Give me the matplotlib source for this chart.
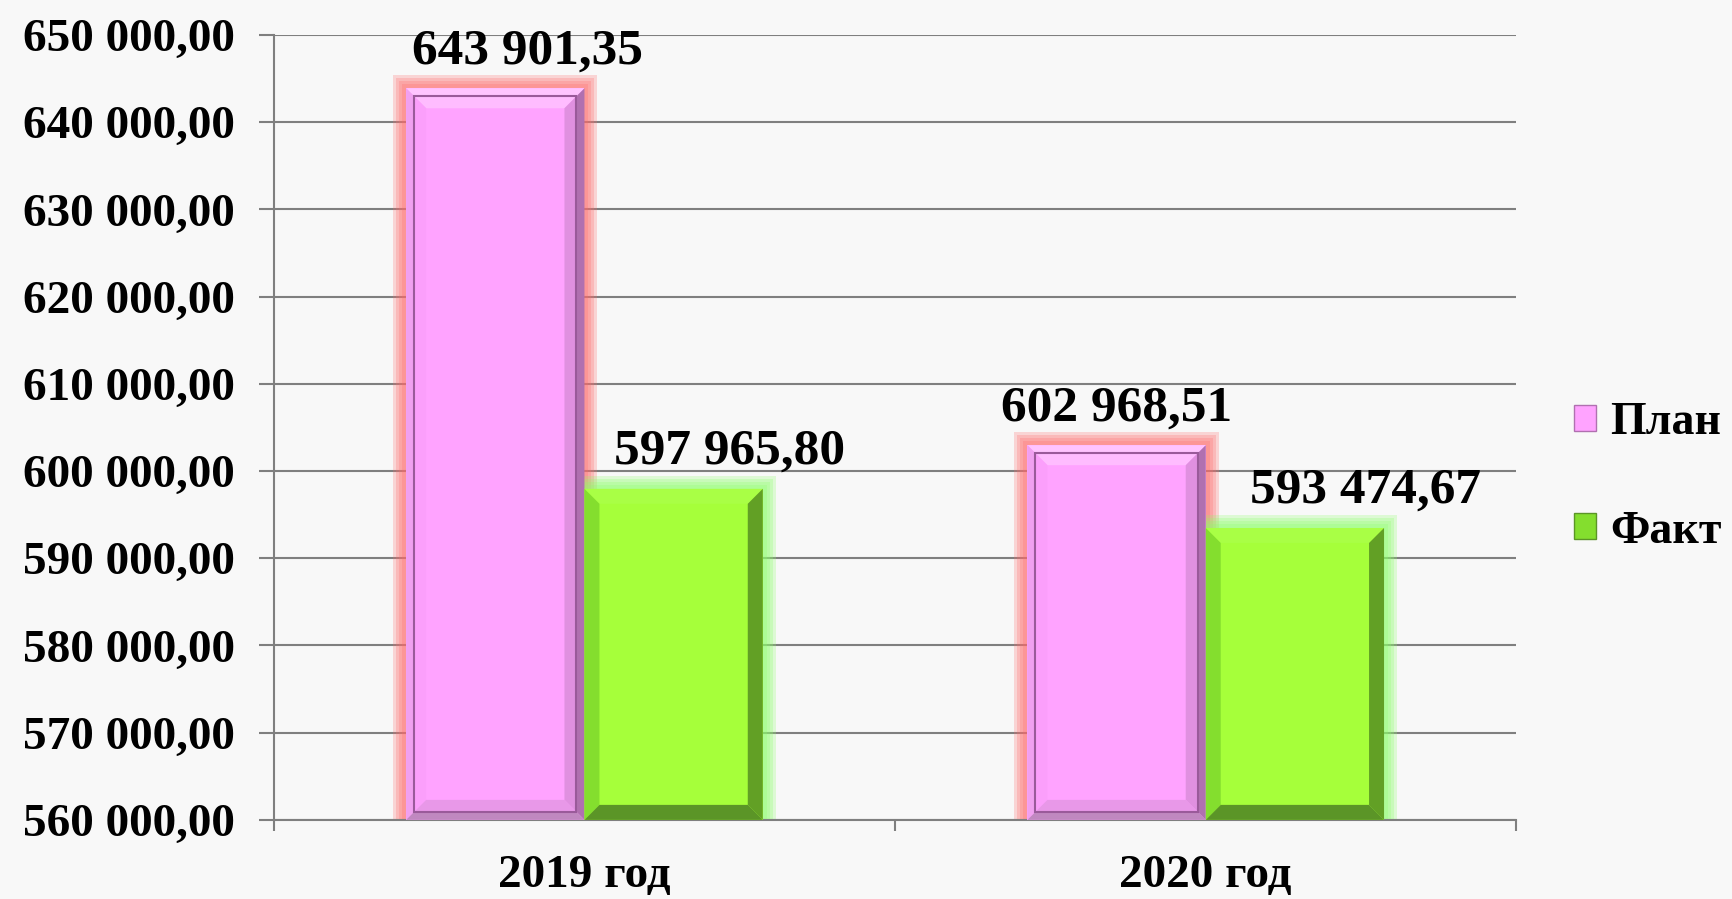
import numpy as np
import matplotlib
matplotlib.use("Agg")
import matplotlib.pyplot as plt
from matplotlib.patches import Polygon, Rectangle
from matplotlib.ticker import FuncFormatter, MultipleLocator, FixedLocator

years = ["2019 год", "2020 год"]
plan = [643901.35, 602968.51]
fact = [597965.80, 593474.67]
series_names = ["План", "Факт"]

y_min, y_max, y_step = 560000, 650000, 10000

# label shifts in points (labels sit a bit right of the bars in the original)
label_dx = [[23, 0], [40, 51]]

plt.rcParams['font.family'] = ['Liberation Serif', 'DejaVu Serif']
plt.rcParams['font.weight'] = 'bold'

fig = plt.figure(figsize=(17.33, 8.99), dpi=100)
fig.patch.set_facecolor('#f8f8f8')
ax = fig.add_axes([0.158, 0.088, 0.717, 0.873])
ax.set_facecolor('none')

x = np.arange(len(years))
w = 0.287
ymin_arr = np.full(len(years), y_min)
bars_plan = ax.bar(x - w / 2, np.array(plan) - y_min, w, bottom=ymin_arr,
                   color='#ffa3ff', zorder=3, label=series_names[0])
bars_fact = ax.bar(x + w / 2, np.array(fact) - y_min, w, bottom=ymin_arr,
                   color='#a6ff3a', zorder=3, label=series_names[1])

ax.set_xlim(-0.5, len(years) - 0.5)
ax.set_ylim(y_min, y_max)

# pixel -> data sizes
ax_px = ax.get_window_extent()
px_x = (len(years)) / ax_px.width
px_y = (y_max - y_min) / ax_px.height


def glow(bar, color):
    x0, y0 = bar.get_x(), bar.get_y()
    bw, bh = bar.get_width(), bar.get_height()
    for pad in [13, 10, 7, 4]:
        ax.add_patch(Rectangle((x0 - pad * px_x, y0), bw + 2 * pad * px_x,
                               bh + pad * px_y, facecolor=color, alpha=0.25,
                               edgecolor='none', zorder=2))


def bevel(bar, b, top, left, right, bottom, zo=4):
    x0, y0 = bar.get_x(), bar.get_y()
    x1, y1 = x0 + bar.get_width(), y0 + bar.get_height()
    bx, by = b * px_x, b * px_y
    xi0, xi1, yi0, yi1 = x0 + bx, x1 - bx, y0 + by, y1 - by
    ax.add_patch(Polygon([(x0, y1), (x1, y1), (xi1, yi1), (xi0, yi1)], color=top, zorder=zo, lw=0))
    ax.add_patch(Polygon([(x0, y0), (x0, y1), (xi0, yi1), (xi0, yi0)], color=left, zorder=zo, lw=0))
    ax.add_patch(Polygon([(x1, y0), (x1, y1), (xi1, yi1), (xi1, yi0)], color=right, zorder=zo, lw=0))
    ax.add_patch(Polygon([(x0, y0), (x1, y0), (xi1, yi0), (xi0, yi0)], color=bottom, zorder=zo, lw=0))
    return xi0, yi0, xi1, yi1


for bar in bars_plan:
    glow(bar, '#ff6b6b')
    xi0, yi0, xi1, yi1 = bevel(bar, 8, '#ffc4ff', '#f0a0f0', '#b070b0', '#c088c0')
    ax.add_patch(Rectangle((xi0, yi0), xi1 - xi0, yi1 - yi0, facecolor='none',
                           edgecolor='#9a5a9a', lw=1.5, zorder=5))
    bevel(Rectangle((xi0, yi0), xi1 - xi0, yi1 - yi0), 12, '#ffbcff', '#fb9ffb', '#e090e0', '#e898e8', zo=4.5)

for bar in bars_fact:
    glow(bar, '#8dff6a')
    bevel(bar, 15, '#a9ff45', '#84de2e', '#62a025', '#5b9527')

# data labels
for i, val in enumerate(plan):
    b = bars_plan[i]
    ax.annotate(f"{val:,.2f}".replace(",", " ").replace(".", ","),
                (b.get_x() + b.get_width() / 2, val), xytext=(label_dx[0][i], 10),
                textcoords='offset points', ha='center', va='bottom',
                fontsize=37, fontweight='bold', zorder=6)
for i, val in enumerate(fact):
    b = bars_fact[i]
    ax.annotate(f"{val:,.2f}".replace(",", " ").replace(".", ","),
                (b.get_x() + b.get_width() / 2, val), xytext=(label_dx[1][i], 10),
                textcoords='offset points', ha='center', va='bottom',
                fontsize=37, fontweight='bold', zorder=6)

# axes styling
ax.yaxis.set_major_locator(MultipleLocator(y_step))
ax.yaxis.set_major_formatter(FuncFormatter(
    lambda v, p: f"{v:,.2f}".replace(",", " ").replace(".", ",")))
ax.grid(axis='y', color='#7f7f7f', lw=1.5, zorder=1)
ax.set_axisbelow(True)
for s in ['top', 'right']:
    ax.spines[s].set_visible(False)
for s in ['left', 'bottom']:
    ax.spines[s].set_color('#7f7f7f')
    ax.spines[s].set_linewidth(1.5)
ax.tick_params(axis='y', length=11, width=1.5, color='#7f7f7f', pad=17, labelsize=34)

ax.xaxis.set_major_locator(FixedLocator(np.arange(-0.5, len(years), 1.0)))
ax.xaxis.set_minor_locator(FixedLocator(x))
ax.xaxis.set_major_formatter(FuncFormatter(lambda v, p: ""))
ax.set_xticks(x, years, minor=True)
ax.tick_params(axis='x', which='major', length=8, width=1.5, color='#7f7f7f')
ax.tick_params(axis='x', which='minor', length=0, pad=25, labelsize=34)
for t in ax.get_yticklabels() + ax.get_xticklabels(minor=True):
    t.set_fontweight('bold')

handles = [Rectangle((0, 0), 1, 1, facecolor='#ffa3ff', edgecolor='#b070b0'),
           Rectangle((0, 0), 1, 1, facecolor='#84de2e', edgecolor='#5b9527')]
leg = fig.legend(handles, series_names, loc='center left',
                 bbox_to_anchor=(0.908, 0.469), frameon=False, borderpad=0,
                 borderaxespad=0, prop={'size': 33, 'weight': 'bold'},
                 handlelength=0.5, handleheight=0.5, handletextpad=0.3,
                 labelspacing=1.45)

fig.savefig('out.png', dpi=100, facecolor=fig.get_facecolor())
